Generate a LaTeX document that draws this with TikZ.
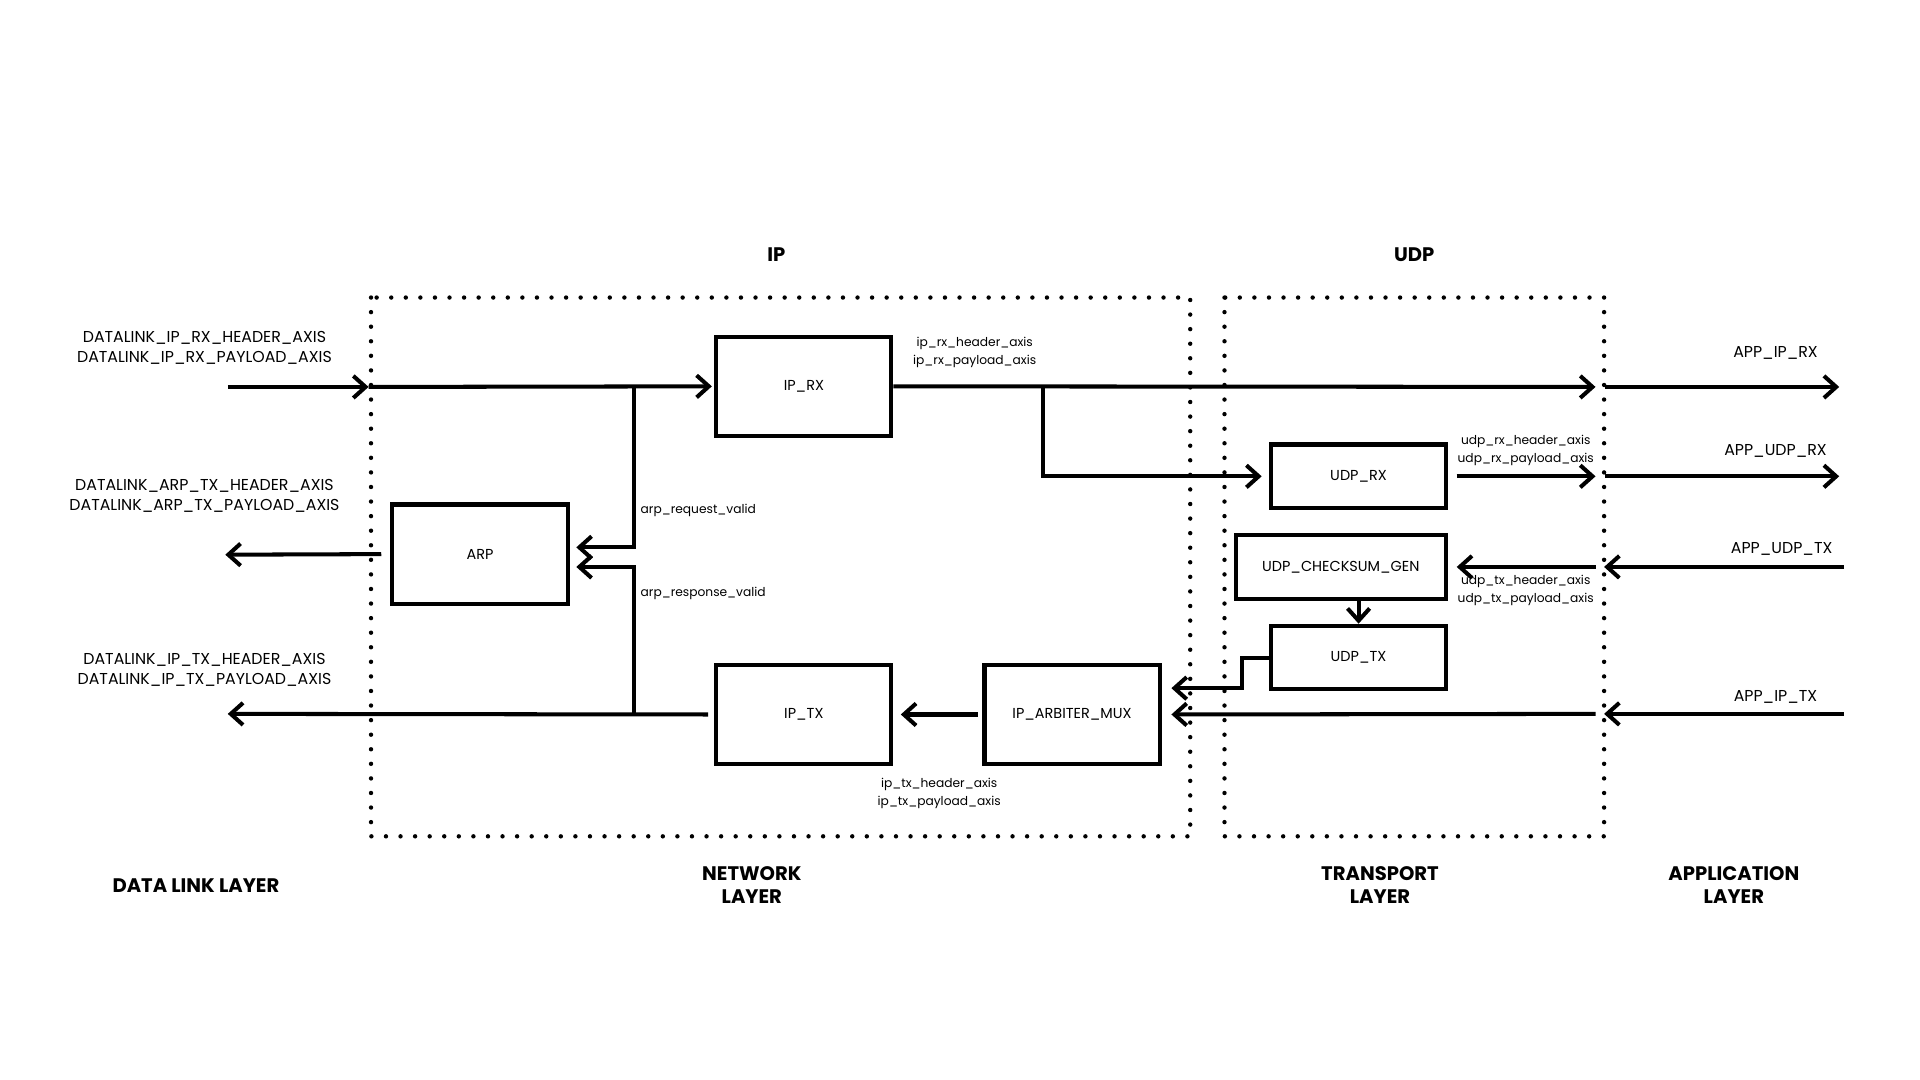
\documentclass[tikz,border=0pt]{standalone}
\usepackage{fontspec}
\setmainfont{Poppins}
\usetikzlibrary{arrows.meta,positioning}
\tikzset{
  blk/.style={draw,line width=3.3pt,minimum width=143pt,minimum height=81pt,inner sep=0pt,font=\fontsize{11.8}{13}\selectfont},
  sig/.style={line width=3.3pt,-{Straight Barb[length=10pt,width=18pt]}},
  layerbox/.style={line width=3.6pt,line cap=round,dash pattern=on 0pt off 11.9pt},
  bus/.style={font=\fontsize{10}{15}\selectfont,align=center,inner sep=0pt},
  port/.style={font=\fontsize{12.9}{16}\selectfont,align=center,inner sep=0pt},
  layer/.style={font=\bfseries\fontsize{16}{19}\selectfont,align=center,inner sep=0pt},
}
\begin{document}
\begin{tikzpicture}[x=1pt,y=-1pt]
\useasboundingbox[fill=white](0,0)rectangle(1568,882);
%layer frames
\draw[layerbox](303,243)rectangle(972,683);
\draw[layerbox](1000,243)rectangle(1310,683);
\node[layer](iphead)at(634,208){IP};
\node[layer](udphead)at(1155,208){UDP};
%blocks
\node[blk](iprx)at(656.5,315.5){IP\_RX};
\node[blk,minimum width=144pt](arp)at(392,452.5){ARP};
\node[blk](iptx)at(656.5,583.5){IP\_TX};
\node[blk](mux)at(875.5,583.5){IP\_ARBITER\_MUX};
\node[blk,minimum height=52pt](udprx)at(1109.5,389){UDP\_RX};
\node[blk,minimum width=172pt,minimum height=52pt](csum)at(1095,463){UDP\_CHECKSUM\_GEN};
\node[blk,minimum height=52pt](udptx)at(1109.5,537){UDP\_TX};
%edge points
\coordinate(dlrx)at(186,316);
\coordinate(iprxin)at(301,316);
\coordinate(dlarp)at(184,453);
\coordinate(dltx)at(186,583);
\coordinate(arpreq)at(518,316);
\coordinate(arprsp)at(518,583);
\coordinate(udpsplit)at(852,316);
\coordinate(rxout)at(1303,316);
\coordinate(udprxout)at(1303,389);
\coordinate(udptxin)at(1303,463);
\coordinate(iptxin)at(1303,583);
\coordinate(apprx)at(1311,316);
\coordinate(appudprx)at(1311,389);
\coordinate(appudptx)at(1506,463);
\coordinate(appiptx)at(1506,583);
%receive path
\draw[sig](dlrx)--(iprxin);
\draw[sig,shorten >=2pt](iprxin)--(iprx.west);
\draw[sig](iprx.east)--(rxout);
\draw[sig](apprx)--++(191,0);
\draw[sig,shorten >=6pt](udpsplit)|-(udprx.west);
\draw[sig,shorten <=7pt](udprx.east)--(udprxout);
\draw[sig](appudprx)--++(191,0);
%arp
\draw[sig,shorten >=5pt](arpreq)|-([yshift=5.5pt]arp.east);
\draw[sig,shorten >=5pt](arprsp)|-([yshift=-10.5pt]arp.east);
\draw[sig,shorten <=7pt](arp.west)--(dlarp);
%transmit path
\draw[sig,shorten <=5pt](iptx.west)--(dltx);
\draw[sig,shorten <=4pt,shorten >=6pt](mux.west)--(iptx.east);
\draw[sig](appiptx)--++(-196,0);
\draw[sig,shorten >=8pt](iptxin)--(mux.east);
\draw[sig](appudptx)--++(-196,0);
\draw[sig,shorten >=7pt](udptxin)--(csum.east);
\draw[sig](udptx.north|-csum.south)--(udptx.north);
\draw[sig,shorten >=8pt](udptx.west)--++(-22,0)|-([yshift=21.5pt]mux.east);
%bus labels
\node[bus](iprxlbl)at(796,288){ip\_rx\_header\_axis\\ip\_rx\_payload\_axis};
\node[bus](iptxlbl)at(767,648){ip\_tx\_header\_axis\\ip\_tx\_payload\_axis};
\node[bus](udprxlbl)at(1246,368){udp\_rx\_header\_axis\\udp\_rx\_payload\_axis};
\node[bus](udptxlbl)at(1246,482){udp\_tx\_header\_axis\\udp\_tx\_payload\_axis};
\node[bus,anchor=west](reqlbl)at(523,417){arp\_request\_valid};
\node[bus,anchor=west](rsplbl)at(523,485){arp\_response\_valid};
%port labels
\node[port](dlrxlbl)at(167,284){DATALINK\_IP\_RX\_HEADER\_AXIS\\DATALINK\_IP\_RX\_PAYLOAD\_AXIS};
\node[port](dlarplbl)at(167,405){DATALINK\_ARP\_TX\_HEADER\_AXIS\\DATALINK\_ARP\_TX\_PAYLOAD\_AXIS};
\node[port](dltxlbl)at(167,547){DATALINK\_IP\_TX\_HEADER\_AXIS\\DATALINK\_IP\_TX\_PAYLOAD\_AXIS};
\node[port](apprxlbl)at(1450,288){APP\_IP\_RX};
\node[port](appudprxlbl)at(1450,368){APP\_UDP\_RX};
\node[port](appudptxlbl)at(1455,448){APP\_UDP\_TX};
\node[port](appiptxlbl)at(1450,569){APP\_IP\_TX};
%layer names
\node[layer](dllayer)at(160,723){DATA LINK LAYER};
\node[layer](netlayer)at(614,723){NETWORK\\LAYER};
\node[layer](trlayer)at(1127,723){TRANSPORT\\LAYER};
\node[layer](applayer)at(1416,723){APPLICATION\\LAYER};
\end{tikzpicture}
\end{document}
